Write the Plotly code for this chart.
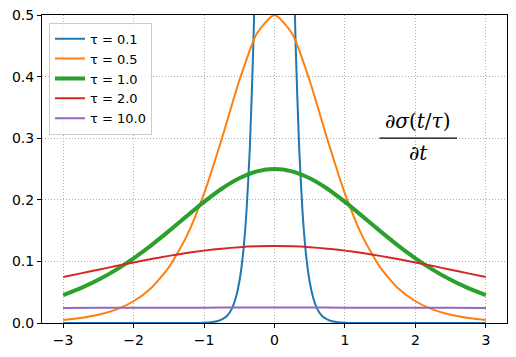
import plotly.graph_objects as go

# Values (derivative of sigmoid curves)
t_std = [-3.0, -2.75, -2.5, -2.25, -2.0, -1.75, -1.5, -1.25, -1.0, -0.75, -0.5, -0.25, 0.0,
         0.25, 0.5, 0.75, 1.0, 1.25, 1.5, 1.75, 2.0, 2.25, 2.5, 2.75, 3.0]

half_05 = [0.5, 0.47001, 0.39322, 0.29829, 0.20999, 0.14021, 0.09035, 0.05691, 0.03533,
           0.02173, 0.01330, 0.00811, 0.00493]
half_10 = [0.25, 0.24614, 0.23500, 0.21795, 0.19661, 0.17311, 0.14915, 0.12613, 0.10499,
           0.08626, 0.07010, 0.05653, 0.04518]
half_20 = [0.125, 0.12451, 0.12307, 0.12071, 0.11750, 0.11355, 0.10897, 0.10382, 0.09830,
           0.09246, 0.08655, 0.08054, 0.07457]

y_tau05 = half_05[::-1] + half_05[1:]
y_tau10 = half_10[::-1] + half_10[1:]
y_tau20 = half_20[::-1] + half_20[1:]

t_tau10 = [-3.0, -2.5, -2.0, -1.5, -1.0, -0.5, 0.0, 0.5, 1.0, 1.5, 2.0, 2.5, 3.0]
half_100 = [0.025, 0.024984, 0.02494, 0.02486, 0.02475, 0.02461, 0.02445]
y_tau100 = half_100[::-1] + half_100[1:]

t_half_01 = [0.0, 0.05, 0.1, 0.15, 0.2, 0.25, 0.3, 0.35, 0.4, 0.45, 0.5, 0.55, 0.6, 0.65,
             0.7, 0.8, 0.9, 1.0, 1.25, 1.5, 2.0, 3.0]
half_01 = [2.5, 2.35004, 1.96610, 1.49147, 1.04994, 0.70104, 0.45177, 0.28453, 0.17663,
           0.10866, 0.06648, 0.04054, 0.02466, 0.01499, 0.009102, 0.003352, 0.001234,
           0.000454, 0.000037, 0.000003, 0.0, 0.0]
t_tau01 = [-v for v in t_half_01[::-1]] + t_half_01[1:]
y_tau01 = half_01[::-1] + half_01[1:]

labels = ["τ = 0.1", "τ = 0.5", "τ = 1.0", "τ = 2.0", "τ = 10.0"]
colors = ["#1f77b4", "#ff7f0e", "#2ca02c", "#d62728", "#9467bd"]
widths = [2, 2, 4, 2, 2]
xs = [t_tau01, t_std, t_std, t_std, t_tau10]
ys = [y_tau01, y_tau05, y_tau10, y_tau20, y_tau100]

fig = go.Figure()
for x, y, lab, c, w in zip(xs, ys, labels, colors, widths):
    fig.add_trace(go.Scatter(x=x, y=y, mode="lines", name=lab,
                             line=dict(color=c, width=w, shape="spline", smoothing=0.6)))

axis_common = dict(showline=True, linecolor="black", linewidth=1, mirror=True,
                   ticks="outside", ticklen=4, tickcolor="black", automargin=False,
                   ticklabeloverflow="allow",
                   showgrid=True, gridcolor="#b0b0b0", griddash="1px,2px", gridwidth=1,
                   zeroline=False, tickfont=dict(family="DejaVu Sans", size=14, color="black"))

fig.update_xaxes(range=[-3.3, 3.3], tickvals=[-3, -2, -1, 0, 1, 2, 3],
                 ticktext=["−3", "−2", "−1", "0", "1", "2", "3"], **axis_common)
fig.update_yaxes(range=[0, 0.5], tickvals=[0, 0.1, 0.2, 0.3, 0.4, 0.5],
                 ticktext=["0.0", "0.1", "0.2", "0.3", "0.4", "0.5"], **axis_common)

# Fraction annotation
fig.add_annotation(x=2.04, y=0.30, yshift=3, text="∂<i>σ</i>(<i>t</i>/<i>τ</i>)", showarrow=False,
                   font=dict(family="DejaVu Serif", size=20, color="black"), yanchor="bottom")
fig.add_annotation(x=2.04, y=0.30, yshift=-1, text="∂<i>t</i>", showarrow=False,
                   font=dict(family="DejaVu Serif", size=20, color="black"), yanchor="top")
fig.add_shape(type="line", x0=1.49, x1=2.59, y0=0.30, y1=0.30, xref="x", yref="y",
              line=dict(color="black", width=1.2))

# The page body adds an 8px offset; margins compensate so the axes land where the reference has them
fig.update_layout(
    width=516, height=357,
    margin=dict(l=34, r=17, t=7, b=42, autoexpand=False),
    paper_bgcolor="white", plot_bgcolor="white",
    legend=dict(x=0.015, y=0.975, xanchor="left", yanchor="top",
                bgcolor="rgba(255,255,255,0.8)", bordercolor="#cccccc", borderwidth=1,
                font=dict(family="DejaVu Sans", size=13, color="black"),
                tracegroupgap=0, itemwidth=30),
    showlegend=True,
)

fig.write_html("out.html")
